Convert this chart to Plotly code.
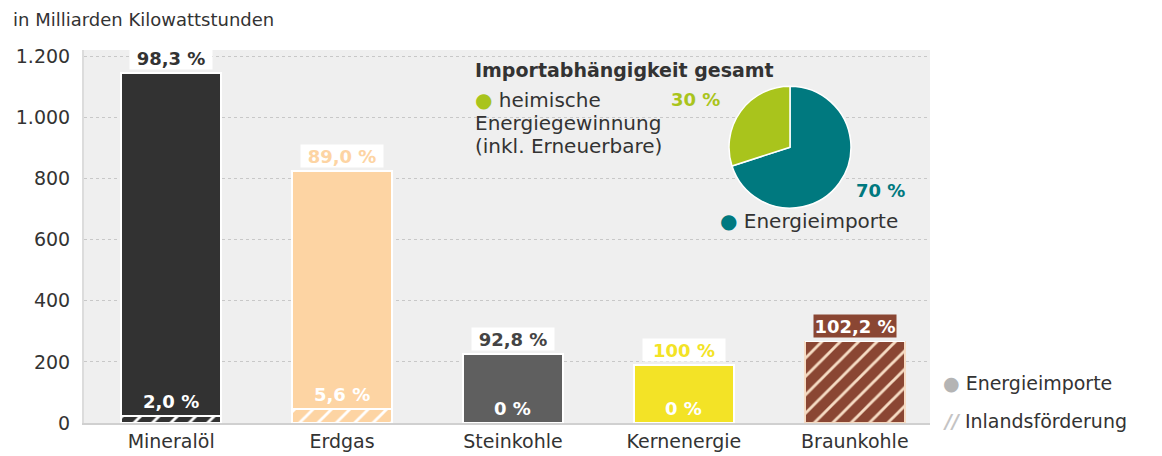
import plotly.graph_objects as go

categories = ["Mineralöl", "Erdgas", "Steinkohle", "Kernenergie", "Braunkohle"]
inland = [23, 46, 0, 0, 267]          # Inlandsförderung (hatched)
imports = [1121, 779, 225, 189, 0]    # remaining part of the bar
top_labels = ["98,3 %", "89,0 %", "92,8 %", "100 %", "102,2 %"]
bottom_labels = ["2,0 %", "5,6 %", "0 %", "0 %", ""]
y_ticks = [0, 200, 400, 600, 800, 1000, 1200]
y_ticktext = ["0", "200", "400", "600", "800", "1.000", "1.200"]
pie_labels = ["Energieimporte", "heimische Energiegewinnung"]
pie_values = [70, 30]

bar_colors = ["#323232", "#fdd4a3", "#5f5f5f", "#f3e326", "#8a4633"]
stripe_colors = ["#ffffff", "#ffffff", "#ffffff", "#ffffff", "#f6dcc4"]
border_colors = ["#ffffff", "#ffffff", "#ffffff", "#ffffff", "#f6dcc4"]
top_text_colors = ["#333333", "#fdd4a3", "#444444", "#f3e326", "#ffffff"]
top_bg_colors = ["#ffffff", "#ffffff", "#ffffff", "#ffffff", "#8a4633"]
green = "#a9c41c"
teal = "#00797f"
txt = "#333333"
FONT = "DejaVu Sans"

x = list(range(len(categories)))
totals = [a + b for a, b in zip(inland, imports)]

fig = go.Figure()
# hatched domestic production, one trace per bar so each gets its own stripe colours
for i in x:
    fig.add_trace(go.Bar(
        x=[x[i]], y=[inland[i]], width=0.585,
        marker=dict(color=bar_colors[i],
                    line=dict(color=border_colors[i], width=1.5),
                    pattern=dict(shape="/", fgcolor=stripe_colors[i], fgopacity=1, size=13,
                                 solidity=0.22, fillmode="overlay")),
        showlegend=False, hoverinfo="skip"))
fig.add_trace(go.Bar(
    x=x, y=imports, width=0.585,
    marker=dict(color=bar_colors, line=dict(color="#ffffff", width=1.5)),
    showlegend=False, hoverinfo="skip"))

fig.add_trace(go.Pie(
    labels=pie_labels, values=pie_values, sort=False, direction="clockwise",
    rotation=0, marker=dict(colors=[teal, green], line=dict(color="#ffffff", width=1.5)),
    textinfo="none", showlegend=False, hoverinfo="skip",
    domain=dict(x=[0.762, 0.907], y=[0.576, 0.903])))

annotations = []
for i, (t, lab) in enumerate(zip(totals, top_labels)):
    annotations.append(dict(x=x[i], y=t, xref="x", yref="y", text="<b>" + lab + "</b>",
                            showarrow=False, yanchor="bottom", yshift=3,
                            font=dict(family=FONT, size=18, color=top_text_colors[i]),
                            bgcolor=top_bg_colors[i], borderpad=0, width=82, height=22))
for i, lab in enumerate(bottom_labels):
    if lab:
        annotations.append(dict(x=x[i], y=inland[i], xref="x", yref="y", text="<b>" + lab + "</b>",
                                showarrow=False, yanchor="bottom", yshift=2,
                                font=dict(family=FONT, size=18, color="#ffffff")))

def pa(px, py, text, size=15, color=txt, xanchor="left", bold=False):
    t = "<b>" + text + "</b>" if bold else text
    annotations.append(dict(x=(px - 84) / 846, y=(423 - py) / 373, xref="paper", yref="paper",
                            text=t, showarrow=False, xanchor=xanchor, yanchor="middle",
                            font=dict(family=FONT, size=size, color=color)))

pa(11, 20, "in Milliarden Kilowattstunden", size=18)
pa(473, 70, "Importabhängigkeit gesamt", size=19, bold=True)
pa(473, 100, '<span style="color:%s">●</span> heimische' % green, size=20)
pa(473, 123, "Energiegewinnung", size=20)
pa(473, 146, "(inkl. Erneuerbare)", size=20)
pa(695, 99, "30 %", size=18, color=green, xanchor="center", bold=True)
pa(880, 190, "70 %", size=18, color=teal, xanchor="center", bold=True)
pa(718, 221, '<span style="color:%s">●</span> Energieimporte' % teal, size=20)
pa(941, 383, '<span style="color:#b4b4b4">●</span> Energieimporte', size=19)
pa(941, 421, '<span style="color:#c4c4c4"><i><b>//</b></i></span> Inlandsförderung', size=19)

fig.update_layout(
    width=1154, height=448,
    margin=dict(l=76, r=232, t=42, b=33),
    paper_bgcolor="#ffffff", plot_bgcolor="#efefef",
    barmode="stack", bargap=0.4,
    font=dict(family=FONT, size=15, color=txt),
    annotations=annotations,
    xaxis=dict(range=[-0.51, 4.44], tickvals=x, ticktext=categories, showgrid=False,
               ticks="", showline=True, linecolor="#d0d0d0", linewidth=1.5, automargin=False,
               ticklabelstandoff=0,
               tickfont=dict(family=FONT, size=19, color=txt), fixedrange=True, zeroline=False),
    yaxis=dict(range=[0, 1220], tickvals=y_ticks, ticktext=y_ticktext, showgrid=True,
               gridcolor="#c8c8c8", griddash="dot", gridwidth=1, zeroline=False,
               showline=True, linecolor="#dcdcdc", linewidth=2, ticks="", ticklen=0,
               ticklabelstandoff=8, automargin=False,
               tickfont=dict(family=FONT, size=19, color=txt), fixedrange=True),
)

fig.write_html("out.html")
